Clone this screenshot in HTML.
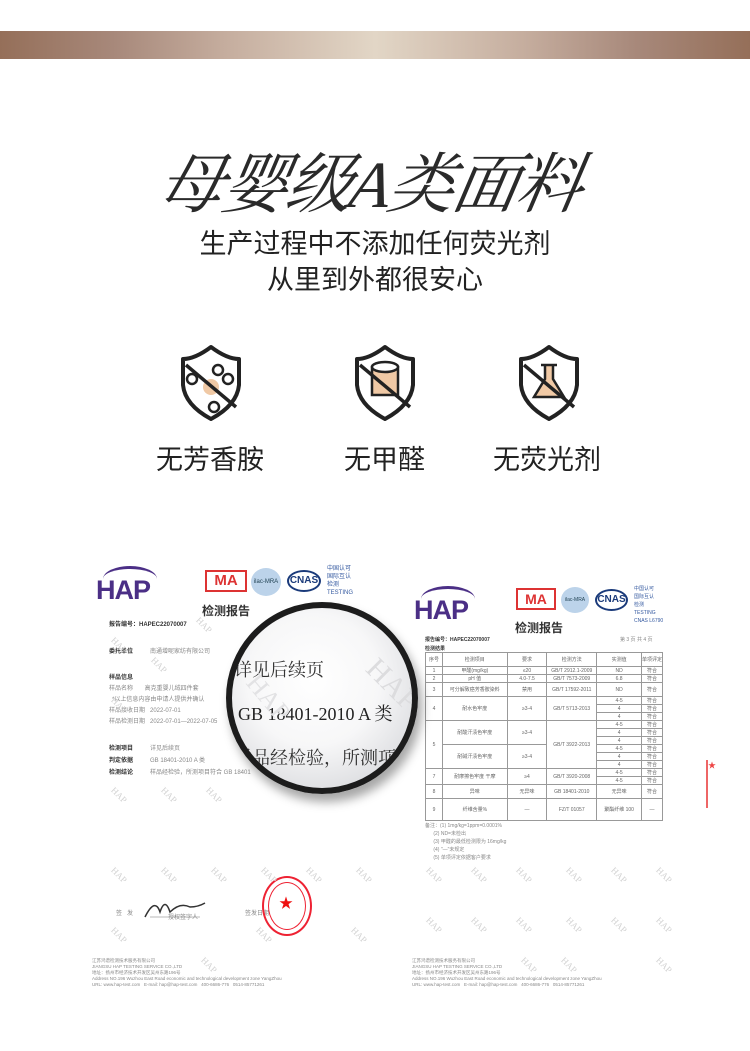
<!DOCTYPE html>
<html><head><meta charset="utf-8"><style>
*{margin:0;padding:0;box-sizing:border-box}
body{width:750px;height:1051px;background:#fff;position:relative;overflow:hidden;font-family:"Liberation Sans","Noto Sans CJK SC",sans-serif;color:#222}
.a{position:absolute;white-space:nowrap}
.bar{left:0;top:31px;width:750px;height:28px;background:linear-gradient(90deg,#956f59 0%,#a7887a 15%,#c5ad9e 30%,#e2d6c6 50%,#c5ad9e 70%,#a7887a 85%,#956f59 100%)}
.s{font-size:6px;color:#888}
.b{font-size:6px;color:#333;font-weight:bold}
.wm{font-size:9px;color:#d2d2d2;transform:rotate(45deg);font-family:"Liberation Serif",serif}
.hap{font-size:27px;font-weight:bold;color:#4b2f86;letter-spacing:-1px;font-family:"Liberation Sans",sans-serif}
.arc{position:absolute;width:54px;height:26px;border-top:3px solid #4b2f86;border-radius:50%}
td{border:1px solid #999;font-size:5px;color:#666;text-align:center;height:8px;padding:0}
</style></head><body>
<div class="a bar"></div>
<div class="a" style="left:160px;top:131px;font-size:66px;font-family:'Liberation Serif','Noto Serif CJK SC',serif;font-style:italic;color:#2a2a2a;letter-spacing:-2px;transform:skewX(-10deg)">母婴级A类面料</div>
<div class="a" style="left:0;width:750px;text-align:center;top:226px;font-size:27px;color:#222;line-height:36px">生产过程中不添加任何荧光剂<br>从里到外都很安心</div>

<svg class="a" style="left:0;top:335px" width="750" height="90">
 <g fill="none" stroke="#222" stroke-width="4" stroke-linejoin="round">
  <path d="M211 12 Q195 24 183 24 L183 50 Q185 70 211 84 Q237 70 239 50 L239 24 Q227 24 211 12Z"/>
  <path d="M385 12 Q369 24 357 24 L357 50 Q359 70 385 84 Q411 70 413 50 L413 24 Q401 24 385 12Z"/>
  <path d="M549 12 Q533 24 521 24 L521 50 Q523 70 549 84 Q575 70 577 50 L577 24 Q565 24 549 12Z"/>
 </g>
 <circle cx="211" cy="52" r="8" fill="#f0c9a5"/>
 <g fill="#fff" stroke="#222" stroke-width="2.5">
  <circle cx="218" cy="35" r="5"/><circle cx="192" cy="44" r="5"/><circle cx="228" cy="44" r="5"/><circle cx="214" cy="72" r="5"/>
 </g>
 <path d="M372 32 h26 v28 h-26z" fill="#f0c9a5" stroke="#222" stroke-width="2.5"/>
 <ellipse cx="385" cy="32" rx="13" ry="5" fill="#fff" stroke="#222" stroke-width="2.5"/>
 <path d="M541 30 h16 M545 30 v14 l-11 18 h30 l-11 -18 v-14" fill="#f0c9a5" stroke="#222" stroke-width="2.5"/>
 <g stroke="#222" stroke-width="3.5">
  <line x1="186" y1="30" x2="236" y2="72"/><line x1="360" y1="30" x2="410" y2="72"/><line x1="524" y1="30" x2="574" y2="72"/>
 </g>
</svg>
<div class="a" style="left:156px;top:438px;font-size:27px">无芳香胺</div>
<div class="a" style="left:344px;top:438px;font-size:27px">无甲醛</div>
<div class="a" style="left:493px;top:438px;font-size:27px">无荧光剂</div>

<div class="arc" style="left:103px;top:566px"></div>
<div class="a hap" style="left:96px;top:575px">HAP</div>
<div class="a" style="left:205px;top:570px;width:42px;height:22px;border:2px solid #d33;color:#d33;font-size:15px;font-weight:bold;text-align:center;line-height:18px">MA</div>
<div class="a" style="left:251px;top:568px;width:30px;height:28px;border-radius:50%;background:#bcd3ea;font-size:6px;color:#245;text-align:center;line-height:28px">ilac-MRA</div>
<div class="a" style="left:287px;top:570px;width:34px;height:22px;border-radius:50%;border:2px solid #1a3a7a;font-size:10px;font-weight:bold;color:#1a3a7a;text-align:center;line-height:18px">CNAS</div>
<div class="a s" style="left:327px;top:565px;color:#3459a0;line-height:8px">中国认可<br>国际互认<br>检测<br>TESTING</div>
<div class="a" style="left:202px;top:602px;font-size:12px;font-weight:bold;color:#333">检测报告</div>
<div class="a b" style="left:109px;top:619px">报告编号：HAPEC22070007</div>
<div class="a b" style="left:109px;top:646px">委托单位</div><div class="a s" style="left:150px;top:646px">南通增呢家纺有限公司</div>
<div class="a b" style="left:109px;top:672px">样品信息</div>
<div class="a s" style="left:109px;top:683px">样品名称 &nbsp; &nbsp; &nbsp; 高克重婴儿绒四件套</div>
<div class="a s" style="left:112px;top:694px">*以上信息内容由申请人提供并确认</div>
<div class="a s" style="left:109px;top:705px">样品接收日期 &nbsp; 2022-07-01</div>
<div class="a s" style="left:109px;top:716px">样品检测日期 &nbsp; 2022-07-01—2022-07-05</div>
<div class="a b" style="left:109px;top:743px">检测项目</div><div class="a s" style="left:150px;top:743px">详见后续页</div>
<div class="a b" style="left:109px;top:755px">判定依据</div><div class="a s" style="left:150px;top:755px">GB 18401-2010 A 类</div>
<div class="a b" style="left:109px;top:767px">检测结论</div><div class="a s" style="left:150px;top:767px">样品经检验，所测项目符合 GB 18401</div>
<svg class="a" style="left:140px;top:895px" width="70" height="30"><path d="M5 22 q10 -20 15 -5 q5 -15 10 0 q10 -10 20 -5 q8 0 15 -4" fill="none" stroke="#333" stroke-width="1.5"/><line x1="10" y1="22" x2="60" y2="22" stroke="#777" stroke-width=".6"/></svg>
<div class="a s" style="left:116px;top:908px">签 &nbsp; 发</div><div class="a s" style="left:168px;top:912px">授权签字人</div>
<div class="a s" style="left:245px;top:908px">签发日期</div>
<div class="a" style="left:262px;top:876px;width:50px;height:60px;border-radius:50%;border:2px solid #e23;"></div>
<div class="a" style="left:268px;top:882px;width:38px;height:48px;border-radius:50%;border:1px solid #e23;"></div>
<div class="a" style="left:279px;top:893px;color:#e11;font-size:14px">★</div>
<div class="a s" style="left:92px;top:958px;line-height:6px;font-size:4.5px">江苏鸿谱检测技术服务有限公司<br>JIANGSU HAP TESTING SERVICE CO.,LTD<br>地址：扬州市经济技术开发区吴州东路196号<br>Address NO.196 Wuzhou East Road economic and technological development zone YangZhou<br>URL: www.hap-test.com &nbsp; E-mail: hap@hap-test.com &nbsp; 400-6686-776 &nbsp; 0514-85771261</div>

<div class="arc" style="left:421px;top:586px"></div>
<div class="a hap" style="left:414px;top:595px">HAP</div>
<div class="a" style="left:516px;top:588px;width:40px;height:22px;border:2px solid #d33;color:#d33;font-size:14px;font-weight:bold;text-align:center;line-height:18px">MA</div>
<div class="a" style="left:561px;top:587px;width:28px;height:26px;border-radius:50%;background:#bcd3ea;font-size:5px;color:#245;text-align:center;line-height:26px">ilac-MRA</div>
<div class="a" style="left:595px;top:589px;width:33px;height:22px;border-radius:50%;border:2px solid #1a3a7a;font-size:10px;font-weight:bold;color:#1a3a7a;text-align:center;line-height:18px">CNAS</div>
<div class="a s" style="left:634px;top:585px;color:#3459a0;line-height:8px;font-size:5px">中国认可<br>国际互认<br>检测<br>TESTING<br>CNAS L6790</div>
<div class="a" style="left:515px;top:619px;font-size:12px;font-weight:bold;color:#333">检测报告</div>
<div class="a b" style="left:425px;top:636px;font-size:5px">报告编号：HAPEC22070007</div>
<div class="a s" style="left:620px;top:636px;font-size:5px">第 3 页 共 4 页</div>
<div class="a b" style="left:425px;top:645px;font-size:5px">检测结果</div>
<table class="a" style="left:425px;top:652px;width:238px;border-collapse:collapse">
<tr><td style="width:17px;height:14px">序号</td><td style="width:65px">检测项目</td><td style="width:40px">要求</td><td style="width:50px">检测方法</td><td style="width:45px">实测值</td><td>单项评定</td></tr>
<tr><td>1</td><td>甲醛(mg/kg)</td><td>≤20</td><td>GB/T 2912.1-2009</td><td>ND</td><td>符合</td></tr>
<tr><td>2</td><td>pH 值</td><td>4.0-7.5</td><td>GB/T 7573-2009</td><td>6.8</td><td>符合</td></tr>
<tr><td style="height:14px">3</td><td>可分解致癌芳香胺染料</td><td>禁用</td><td>GB/T 17592-2011</td><td>ND</td><td>符合</td></tr>
<tr><td rowspan="3">4</td><td rowspan="3">耐水色牢度</td><td rowspan="3">≥3-4</td><td rowspan="3">GB/T 5713-2013</td><td>4-5</td><td>符合</td></tr><tr><td>4</td><td>符合</td></tr><tr><td>4</td><td>符合</td></tr>
<tr><td rowspan="6">5</td><td rowspan="3">耐酸汗渍色牢度</td><td rowspan="3">≥3-4</td><td rowspan="6">GB/T 3922-2013</td><td>4-5</td><td>符合</td></tr><tr><td>4</td><td>符合</td></tr><tr><td>4</td><td>符合</td></tr>
<tr><td rowspan="3">耐碱汗渍色牢度</td><td rowspan="3">≥3-4</td><td>4-5</td><td>符合</td></tr><tr><td>4</td><td>符合</td></tr><tr><td>4</td><td>符合</td></tr>
<tr><td rowspan="2">7</td><td rowspan="2">耐摩擦色牢度 干摩</td><td rowspan="2">≥4</td><td rowspan="2">GB/T 3920-2008</td><td>4-5</td><td>符合</td></tr><tr><td>4-5</td><td>符合</td></tr>
<tr><td style="height:14px">8</td><td>异味</td><td>无异味</td><td>GB 18401-2010</td><td>无异味</td><td>符合</td></tr>
<tr><td style="height:22px">9</td><td>纤维含量%</td><td>—</td><td>FZ/T 01057</td><td>聚酯纤维 100</td><td>—</td></tr>
</table>
<div class="a s" style="left:425px;top:822px;line-height:8px;font-size:5px">备注：(1) 1mg/kg=1ppm=0.0001%<br>&nbsp; &nbsp; &nbsp; (2) ND=未检出<br>&nbsp; &nbsp; &nbsp; (3) 甲醛的最低检测限为 16mg/kg<br>&nbsp; &nbsp; &nbsp; (4) "—"未规定<br>&nbsp; &nbsp; &nbsp; (5) 单项评定依据客户要求</div>
<div class="a s" style="left:412px;top:958px;line-height:6px;font-size:4.5px">江苏鸿谱检测技术服务有限公司<br>JIANGSU HAP TESTING SERVICE CO.,LTD<br>地址：扬州市经济技术开发区吴州东路196号<br>Address NO.196 Wuzhou East Road economic and technological development zone YangZhou<br>URL: www.hap-test.com &nbsp; E-mail: hap@hap-test.com &nbsp; 400-6686-776 &nbsp; 0514-85771261</div>
<div class="a" style="left:706px;top:760px;width:12px;height:48px;border-left:2px solid #e66;color:#e44;font-size:8px">★</div>

<div class="a" style="left:0;top:0">
<div class="a wm" style="left:110px;top:640px">HAP</div><div class="a wm" style="left:150px;top:660px">HAP</div><div class="a wm" style="left:195px;top:620px">HAP</div>
<div class="a wm" style="left:110px;top:700px">HAP</div><div class="a wm" style="left:110px;top:790px">HAP</div><div class="a wm" style="left:160px;top:790px">HAP</div><div class="a wm" style="left:205px;top:790px">HAP</div>
<div class="a wm" style="left:110px;top:870px">HAP</div><div class="a wm" style="left:160px;top:870px">HAP</div><div class="a wm" style="left:210px;top:870px">HAP</div><div class="a wm" style="left:260px;top:870px">HAP</div><div class="a wm" style="left:305px;top:870px">HAP</div><div class="a wm" style="left:355px;top:870px">HAP</div>
<div class="a wm" style="left:110px;top:930px">HAP</div><div class="a wm" style="left:255px;top:930px">HAP</div><div class="a wm" style="left:350px;top:930px">HAP</div>
<div class="a wm" style="left:425px;top:870px">HAP</div><div class="a wm" style="left:470px;top:870px">HAP</div><div class="a wm" style="left:515px;top:870px">HAP</div><div class="a wm" style="left:565px;top:870px">HAP</div><div class="a wm" style="left:610px;top:870px">HAP</div><div class="a wm" style="left:655px;top:870px">HAP</div>
<div class="a wm" style="left:425px;top:920px">HAP</div><div class="a wm" style="left:470px;top:920px">HAP</div><div class="a wm" style="left:515px;top:920px">HAP</div><div class="a wm" style="left:565px;top:920px">HAP</div><div class="a wm" style="left:610px;top:920px">HAP</div><div class="a wm" style="left:655px;top:920px">HAP</div>
<div class="a wm" style="left:520px;top:960px">HAP</div><div class="a wm" style="left:560px;top:960px">HAP</div><div class="a wm" style="left:655px;top:960px">HAP</div><div class="a wm" style="left:200px;top:960px">HAP</div>
</div>

<div class="a" style="left:226px;top:602px;width:192px;height:192px;border-radius:50%;border:6px solid #1c1c1c;background:radial-gradient(circle at 45% 40%,#fff 0%,#f7f7f8 45%,#dcdde0 80%,#b9babd 100%);box-shadow:4px 8px 10px rgba(0,0,0,.35);overflow:hidden">
 <div class="a" style="left:2px;top:48px;font-size:18px;color:#333;font-family:'Liberation Serif','Noto Serif CJK SC',serif">详见后续页</div>
 <div class="a" style="left:6px;top:92px;font-size:18px;color:#222;font-family:'Liberation Serif','Noto Serif CJK SC',serif">GB 18401-2010 A 类</div>
 <div class="a" style="left:2px;top:136px;font-size:18px;color:#333;font-family:'Liberation Serif','Noto Serif CJK SC',serif">样品经检验，所测项目</div>
 <div class="a" style="left:130px;top:60px;font-size:30px;color:#dcdcde;transform:rotate(45deg);font-family:'Liberation Serif',serif">HAP</div>
 <div class="a" style="left:10px;top:75px;font-size:26px;color:#e2e2e4;transform:rotate(50deg);font-family:'Liberation Serif',serif">HAP</div>
</div>
</body></html>
